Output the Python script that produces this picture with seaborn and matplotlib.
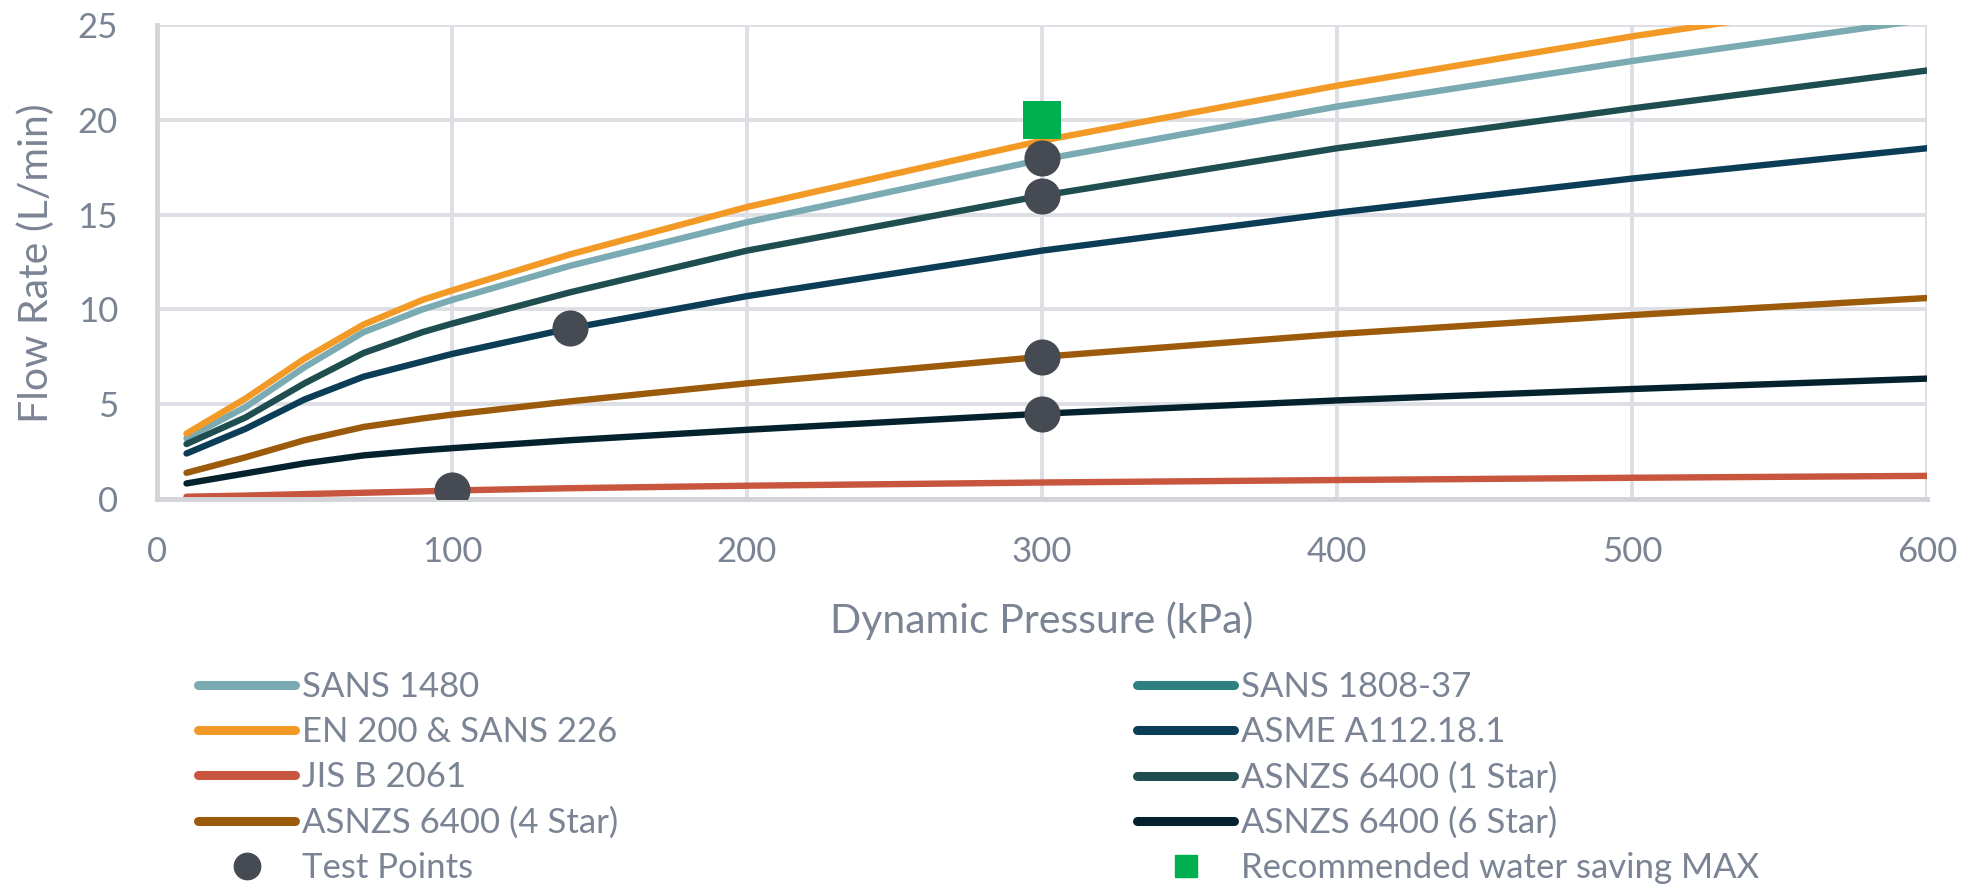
import numpy as np
import pandas as pd
import seaborn as sns
import matplotlib.pyplot as plt
from matplotlib.lines import Line2D

# values
pressure = [10, 30, 50, 70, 90, 100, 140, 200, 300, 400, 500, 600]
sans_1480 = [3.2, 4.85, 6.95, 8.8, 10.0, 10.5, 12.3, 14.6, 17.9, 20.7, 23.1, 25.3]
en_200 = [3.45, 5.3, 7.4, 9.2, 10.5, 11.0, 12.9, 15.4, 18.9, 21.8, 24.4, 26.7]
jis_b2061 = [0.12, 0.18, 0.26, 0.33, 0.4, 0.45, 0.57, 0.7, 0.87, 1.0, 1.12, 1.22]
asme = [2.4, 3.7, 5.25, 6.45, 7.25, 7.65, 9.0, 10.7, 13.1, 15.1, 16.9, 18.5]
star_4 = [1.38, 2.2, 3.1, 3.8, 4.25, 4.45, 5.15, 6.1, 7.5, 8.7, 9.7, 10.6]
star_1 = [2.9, 4.3, 6.1, 7.7, 8.8, 9.25, 10.9, 13.1, 16.0, 18.5, 20.6, 22.6]
star_6 = [0.82, 1.35, 1.88, 2.3, 2.57, 2.68, 3.1, 3.65, 4.5, 5.2, 5.8, 6.35]

test_x = [100, 140, 300, 300, 300, 300]
test_y = [0.5, 9, 18, 16, 7.5, 4.5]
rec_x = [300]
rec_y = [20]

series = {
    "SANS 1480": sans_1480,
    "EN 200 & SANS 226": en_200,
    "JIS B 2061": jis_b2061,
    "ASME A112.18.1": asme,
    "ASNZS 6400 (4 Star)": star_4,
    "ASNZS 6400 (1 Star)": star_1,
    "ASNZS 6400 (6 Star)": star_6,
}
colors = {
    "SANS 1480": "#7AAAB2",
    "SANS 1808-37": "#2E8080",
    "EN 200 & SANS 226": "#F39A26",
    "JIS B 2061": "#C8553D",
    "ASME A112.18.1": "#0B3D57",
    "ASNZS 6400 (4 Star)": "#9C5A0B",
    "ASNZS 6400 (1 Star)": "#1E4E50",
    "ASNZS 6400 (6 Star)": "#04222E",
}
pt_color = "#454A53"
rec_color = "#00B050"
txt = "#7B8494"
grid_c = "#DEDFE4"

df = pd.concat(
    [pd.DataFrame({"Pressure": pressure, "Flow": v, "Standard": k}) for k, v in series.items()],
    ignore_index=True,
)

sns.set_style("white")
plt.rcParams["font.family"] = ["Lato", "DejaVu Sans"]

fig = plt.figure(figsize=(19.77, 8.91), dpi=100)
ax = fig.add_axes([157 / 1977, 1 - 499 / 891, 1770 / 1977, 474 / 891])

sns.lineplot(data=df, x="Pressure", y="Flow", hue="Standard", palette=colors,
             linewidth=4.6, legend=False, ax=ax, sort=False)
sns.scatterplot(x=test_x, y=test_y, color=pt_color, s=26 ** 2, linewidth=0, ax=ax, zorder=5)
sns.scatterplot(x=rec_x, y=rec_y, color=rec_color, marker="s", s=27 ** 2, linewidth=0, ax=ax, zorder=6)

ax.set_xlim(0, 600)
ax.set_ylim(0, 25)
ax.set_xticks(range(0, 601, 100))
ax.set_yticks(range(0, 26, 5))
ax.grid(True, color=grid_c, linewidth=2.8)
ax.set_axisbelow(True)
for s in ["top", "right"]:
    ax.spines[s].set_visible(False)
for s in ["left", "bottom"]:
    ax.spines[s].set_color("#D3D4D9")
    ax.spines[s].set_linewidth(3.5)
ax.tick_params(axis="both", length=0, labelsize=25, labelcolor=txt)
ax.tick_params(axis="x", pad=27)
ax.tick_params(axis="y", pad=28)
ax.set_xlabel("")
ax.set_ylabel("")

fig.text(1042 / 1977, 1 - 621 / 891, "Dynamic Pressure (kPa)", ha="center", va="center",
         fontsize=29.5, color=txt)
fig.text(36 / 1977, 1 - 263 / 891, "Flow Rate (L/min)", ha="center", va="center",
         rotation=90, fontsize=29.5, color=txt)

def lh(name):
    return Line2D([], [], color=colors[name], linewidth=6.5, solid_capstyle="round")

left_h = [lh("SANS 1480"), lh("EN 200 & SANS 226"), lh("JIS B 2061"), lh("ASNZS 6400 (4 Star)"),
          Line2D([], [], linestyle="", marker="o", markersize=19, color=pt_color)]
left_l = ["SANS 1480", "EN 200 & SANS 226", "JIS B 2061", "ASNZS 6400 (4 Star)", "Test Points"]
right_h = [lh("SANS 1808-37"), lh("ASME A112.18.1"), lh("ASNZS 6400 (1 Star)"), lh("ASNZS 6400 (6 Star)"),
           Line2D([], [], linestyle="", marker="s", markersize=16.5, color=rec_color)]
right_l = ["SANS 1808-37", "ASME A112.18.1", "ASNZS 6400 (1 Star)", "ASNZS 6400 (6 Star)",
           "Recommended water saving MAX"]

for h, l, x0 in [(left_h, left_l, 198), (right_h, right_l, 1137)]:
    leg = fig.legend(h, l, loc="upper left", bbox_to_anchor=(x0 / 1977, 1 - 671 / 891),
                     frameon=False, fontsize=25, borderpad=0, borderaxespad=0,
                     handlelength=2.8, handletextpad=0.2, labelspacing=0.38, labelcolor=txt)

fig.savefig("out.png", dpi=100)
